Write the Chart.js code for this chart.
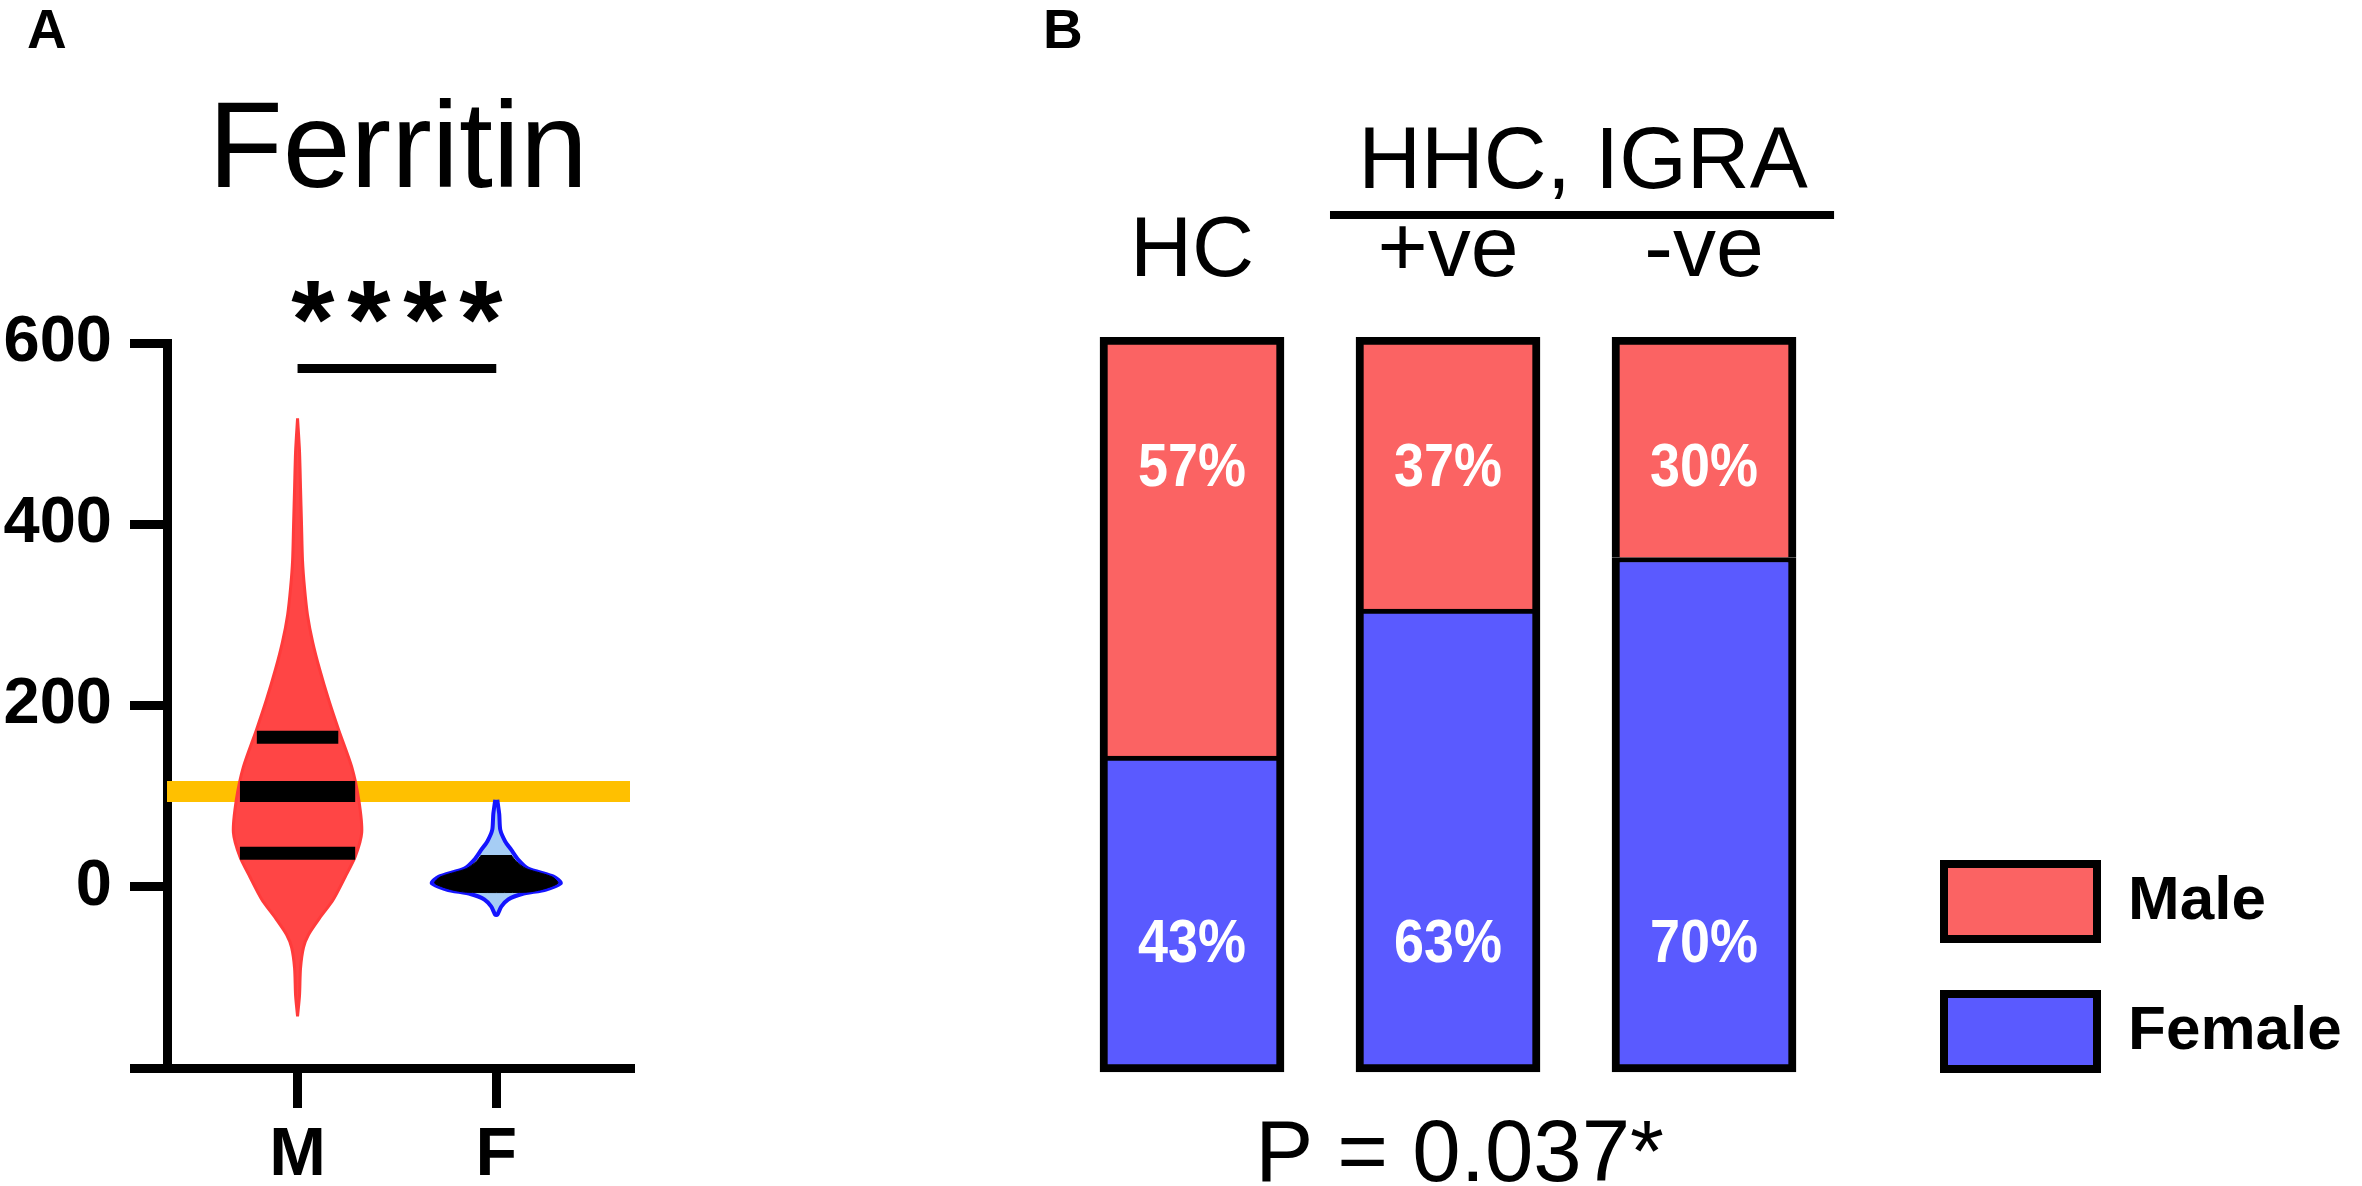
<!DOCTYPE html>
<html><head><meta charset="utf-8">
<script src="https://cdn.jsdelivr.net/npm/chart.js@4.4.1/dist/chart.umd.min.js"></script>
<style>
html,body{margin:0;padding:0;background:#fff;width:2362px;height:1186px;overflow:hidden}
canvas{position:absolute;top:0}
#chartA{left:0}
#chartB{left:1000px}
</style></head><body>
<canvas id="chartA" width="700" height="1186"></canvas>
<canvas id="chartB" width="1362" height="1186"></canvas>
<script>
// ---------- Panel A : Ferritin violin plot ----------
const ferritinGroups = ['M', 'F'];
const ferritinYTicks = [-200, 0, 200, 400, 600];
const referenceLevel = 105;
const maleViolinY = [517, 480, 440, 400, 360, 330, 300, 270, 240, 206, 173, 132, 96, 60, 33, 11, -14, -35, -53, -67, -90, -120, -143];
const maleViolinHalfWidth = [0, 0.010, 0.015, 0.020, 0.025, 0.035, 0.05, 0.076, 0.111, 0.157, 0.207, 0.273, 0.308, 0.323, 0.290, 0.240, 0.180, 0.110, 0.055, 0.030, 0.015, 0.010, 0];
const maleQuartiles = [37, 105, 165];
const maleQuartileHalfWidth = [0.29, 0.29, 0.205];
const femaleViolinY = [96, 80, 63, 50, 41, 30, 20, 11, 4, -3, -8, -14, -22, -31];
const femaleViolinHalfWidth = [0.005, 0.015, 0.02, 0.045, 0.075, 0.11, 0.16, 0.29, 0.325, 0.25, 0.13, 0.06, 0.025, 0.005];
const femaleIqrY = [35, 28, 20, 11, 4, -3, -6];
const femaleIqrHalfWidth = [0.075, 0.10, 0.15, 0.28, 0.31, 0.23, 0.15];
const significanceLevel = 572;
const significanceStars = ['*', '*', '*', '*'];

// ---------- Panel B : sex distribution ----------
const groupLabels = ['HC', '+ve', '-ve'];
const malePct = [57, 37, 30];
const femalePct = [43, 63, 70];
const maleLabelPos = 82.0;
const femaleLabelPos = 17.3;
const superGroupLabel = 'HHC, IGRA';
const pValueText = 'P = 0.037*';

const FONT = "'Liberation Sans', Arial, Helvetica, sans-serif";

function violinPoints(center, ys, hws) {
  const right = ys.map((y, i) => ({x: center + hws[i], y}));
  const left = ys.map((y, i) => ({x: center - hws[i], y})).reverse();
  return right.concat(left);
}
function hLine(x1, x2, y) { return [{x: x1, y}, {x: x2, y}]; }

const baseLine = {showLine: true, pointRadius: 0, pointHoverRadius: 0, pointHitRadius: 0, borderCapStyle: 'butt'};

const xMinA = 0.343, xMaxA = 2.673;

const datasetsA = [
  Object.assign({}, baseLine, {label: 'significance', data: hLine(1, 2, significanceLevel), borderColor: '#000', borderWidth: 9, order: 0}),
  ...maleQuartiles.map((q, i) => Object.assign({}, baseLine, {
    label: 'M quartile ' + i, data: hLine(1 - maleQuartileHalfWidth[i], 1 + maleQuartileHalfWidth[i], q),
    borderColor: '#000', borderWidth: i === 1 ? 21 : 13, order: 1})),
  Object.assign({}, baseLine, {label: 'F IQR', data: violinPoints(2, femaleIqrY, femaleIqrHalfWidth),
    borderColor: '#000', backgroundColor: '#000', borderWidth: 1, fill: 'shape', tension: 0.25, order: 1}),
  Object.assign({}, baseLine, {label: 'M', data: violinPoints(1, maleViolinY, maleViolinHalfWidth),
    borderColor: '#FF3B3B', backgroundColor: '#FF4545', borderWidth: 3, fill: 'shape', tension: 0.25, order: 3}),
  Object.assign({}, baseLine, {label: 'F', data: violinPoints(2, femaleViolinY, femaleViolinHalfWidth),
    borderColor: '#1414FF', backgroundColor: '#A6CDF4', borderWidth: 4, fill: 'shape', tension: 0.2, order: 3}),
  Object.assign({}, baseLine, {label: 'reference', data: hLine(xMinA, xMaxA, referenceLevel),
    borderColor: '#FFC000', borderWidth: 21, order: 4})
];

const textPluginA = {
  id: 'textA',
  afterDraw(chart) {
    const ctx = chart.ctx, xs = chart.scales.x, ys = chart.scales.y;
    ctx.save();
    ctx.fillStyle = '#000';
    ctx.textBaseline = 'alphabetic';
    ctx.textAlign = 'left';
    ctx.font = 'bold 55px ' + FONT;
    ctx.fillText('A', 27, 48);
    ctx.textAlign = 'center';
    ctx.font = '122px ' + FONT;
    ctx.fillText('Ferritin', 398, 187);
    ctx.font = 'bold 111px ' + FONT;
    const cx = xs.getPixelForValue(1.5), by = ys.getPixelForValue(significanceLevel) - 10;
    significanceStars.forEach((s, i) => ctx.fillText(s, cx + (i - 1.5) * 56, by));
    ctx.restore();
  }
};

new Chart(document.getElementById('chartA'), {
  type: 'scatter',
  data: {datasets: datasetsA},
  options: {
    responsive: false, animation: false, events: [], devicePixelRatio: 1,
    layout: {padding: {top: 343, left: 0, right: 70, bottom: 0}},
    plugins: {legend: {display: false}, tooltip: {enabled: false}},
    scales: {
      x: {
        type: 'linear', min: xMinA, max: xMaxA,
        afterBuildTicks: s => { s.ticks = [1, 2].map(v => ({value: v})); },
        afterFit: s => { s.height = 118; },
        ticks: {callback: v => ferritinGroups[v - 1], color: '#000', padding: 7, autoSkip: false, maxRotation: 0,
                font: {family: FONT, weight: 'bold', size: 68, lineHeight: 1.2}},
        grid: {display: true, drawOnChartArea: false, drawTicks: true, tickLength: 40, lineWidth: 9, color: '#000'},
        border: {display: true, width: 9, color: '#000'}
      },
      y: {
        type: 'linear', min: -200, max: 600,
        afterBuildTicks: s => { s.ticks = ferritinYTicks.map(v => ({value: v})); },
        afterFit: s => { s.width = 167; },
        ticks: {callback: v => (v === -200 ? '' : String(v)), color: '#000', padding: 18,
                font: {family: FONT, weight: 'bold', size: 65}},
        grid: {display: true, drawOnChartArea: false, drawTicks: true, tickLength: 37, lineWidth: 9, color: '#000'},
        border: {display: true, width: 9, color: '#000'}
      }
    }
  },
  plugins: [textPluginA]
});

// ---------- Chart B ----------
const textPluginB = {
  id: 'textB',
  afterDraw(chart) {
    const ctx = chart.ctx, xs = chart.scales.x, ys = chart.scales.y;
    ctx.save();
    ctx.fillStyle = '#000';
    ctx.textBaseline = 'alphabetic';
    ctx.textAlign = 'left';
    ctx.font = 'bold 55px ' + FONT;
    ctx.fillText('B', 43, 48);
    ctx.textAlign = 'center';
    ctx.font = '87px ' + FONT;
    ctx.fillText(superGroupLabel, xs.getPixelForValue(1.527), 188);
    ctx.fillText(pValueText, xs.getPixelForValue(1.045), 1181);
    ctx.strokeStyle = '#000';
    ctx.lineWidth = 8;
    ctx.beginPath();
    ctx.moveTo(xs.getPixelForValue(0.539), 215);
    ctx.lineTo(xs.getPixelForValue(2.508), 215);
    ctx.stroke();
    // percentage labels
    ctx.fillStyle = '#fff';
    ctx.textBaseline = 'middle';
    ctx.font = 'bold 62px ' + FONT;
    chart.data.datasets.forEach((ds, di) => {
      const meta = chart.getDatasetMeta(di);
      const pos = ds.label === 'Male' ? maleLabelPos : femaleLabelPos;
      meta.data.forEach((el, i) => {
        ctx.save();
        ctx.translate(el.x, ys.getPixelForValue(pos));
        ctx.scale(0.87, 1);
        ctx.fillText(ds.data[i].y + '%', 0, 0);
        ctx.restore();
      });
    });
    ctx.restore();
  }
};

new Chart(document.getElementById('chartB'), {
  type: 'bar',
  data: {
    datasets: [
      {label: 'Female', data: femalePct.map((v, i) => ({x: i, y: v})), backgroundColor: '#5A5AFF', borderColor: '#000',
       borderWidth: {top: 5, left: 8, right: 8, bottom: 8}, borderSkipped: false, barThickness: 184},
      {label: 'Male', data: malePct.map((v, i) => ({x: i, y: v})), backgroundColor: '#FB6363', borderColor: '#000',
       borderWidth: {top: 8, left: 8, right: 8, bottom: 0}, borderSkipped: false, barThickness: 184}
    ]
  },
  options: {
    responsive: false, animation: false, events: [], devicePixelRatio: 1,
    layout: {padding: {top: 0, left: 64, right: 10.3, bottom: 62}},
    plugins: {
      tooltip: {enabled: false},
      legend: {
        display: true, position: 'right', align: 'end', reverse: true,
        labels: {
          boxWidth: 153, boxHeight: 75, padding: 55, color: '#000',
          font: {family: FONT, weight: 'bold', size: 62},
          generateLabels: chart => chart.data.datasets.map((ds, i) => ({
            text: ds.label, fillStyle: ds.backgroundColor, strokeStyle: '#000', lineWidth: 8,
            hidden: false, datasetIndex: i, fontColor: '#000'}))
        }
      }
    },
    scales: {
      x: {
        type: 'linear', position: 'top', stacked: true, offset: false, min: -0.5, max: 2.7227,
        afterBuildTicks: s => { s.ticks = groupLabels.map((_, i) => ({value: i})); },
        afterFit: s => { s.height = 337; },
        ticks: {callback: v => groupLabels[v], color: '#000', padding: 33, autoSkip: false, maxRotation: 0,
                font: {family: FONT, size: 86, lineHeight: 1.2}},
        grid: {display: false, drawTicks: false, offset: false},
        border: {display: false}
      },
      y: {type: 'linear', stacked: true, min: -7.07, max: 100, display: false}
    }
  },
  plugins: [textPluginB]
});
</script>
</body></html>
